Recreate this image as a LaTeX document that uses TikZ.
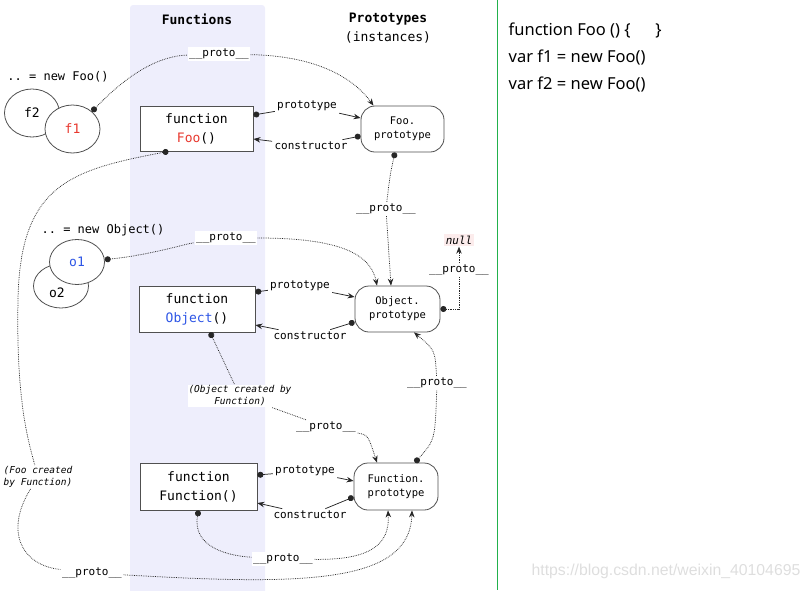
\documentclass[tikz,border=0pt]{standalone}
\usepackage{fontspec}
\setmonofont{DejaVu Sans Mono}
\newfontfamily\codefont{Noto Sans}
\newfontfamily\markfont{Liberation Sans}
\usetikzlibrary{shapes, arrows.meta, calc}

\definecolor{colbg}{RGB}{238,238,252}
\definecolor{fooRed}{RGB}{232,56,46}
\definecolor{objBlue}{RGB}{45,85,230}
\definecolor{nullPink}{RGB}{252,236,236}
\definecolor{edge}{RGB}{80,80,80}
\definecolor{barGreen}{RGB}{34,177,76}

\begin{document}
\begin{tikzpicture}[
    x=1pt, y=1pt,
    line width=0.8pt,
    every node/.style={font=\ttfamily, align=center},
    fnbox/.style={draw=edge, fill=white, inner sep=0pt, font=\ttfamily\fontsize{13}{19}\selectfont},
    protobox/.style={draw=edge, fill=white, rounded corners=14pt, inner sep=0pt, font=\ttfamily\fontsize{10.5}{14}\selectfont},
    inst/.style={ellipse, draw=edge, fill=white, inner sep=0pt, font=\ttfamily\fontsize{13}{15}\selectfont},
    lbl/.style={font=\ttfamily\fontsize{11}{13}\selectfont, inner sep=2pt},
    plbl/.style={lbl, fill=white, inner sep=1.5pt},
    note/.style={font=\ttfamily\itshape\fontsize{9.5}{12}\selectfont, fill=white, inner sep=1pt},
    ctorlink/.style={line width=0.75pt, draw=black!85},
    protolink/.style={ctorlink, densely dotted},
    dotstart/.style={{Circle[length=6pt]}-},
    arrowend/.style={-{Stealth[length=7pt,width=5.5pt]}}
]
\useasboundingbox (0,0) rectangle (812,-590);

% column of constructor functions
\fill[colbg, rounded corners=3pt] (130,-5) rectangle (265,-596);
\node[font=\ttfamily\bfseries\fontsize{13}{16}\selectfont] (fnhead) at (197,-19) {Functions};
\node[font=\ttfamily\fontsize{13}{19}\selectfont] (prhead) at (388,-28) {\textbf{Prototypes}\\(instances)};

% functions
\node[fnbox, minimum width=113pt, minimum height=45pt] (fooFn) at (196.5,-128.5) {function\\\textcolor{fooRed}{Foo}()};
\node[fnbox, minimum width=116pt, minimum height=46pt] (objFn) at (197,-309) {function\\\textcolor{objBlue}{Object}()};
\node[fnbox, minimum width=117pt, minimum height=47pt] (funFn) at (198.5,-486.5) {function\\Function()};

% prototypes
\node[protobox, minimum width=83pt, minimum height=46pt] (fooProto) at (402.5,-129) {Foo.\\prototype};
\node[protobox, minimum width=85pt, minimum height=46pt] (objProto) at (397.5,-309) {Object.\\prototype};
\node[protobox, minimum width=84pt, minimum height=47pt] (funProto) at (396,-486.5) {Function.\\prototype};
\node[font=\ttfamily\itshape\fontsize{11}{13}\selectfont, fill=nullPink, inner sep=2pt] (nullv) at (459,-240) {null};

% instances
\node[font=\ttfamily\fontsize{12}{14}\selectfont] (newfoo) at (58,-77) {.. = new Foo()};
\node[inst, minimum width=55pt, minimum height=48pt] (f2) at (32,-113) {f2};
\node[inst, minimum width=55pt, minimum height=48pt, text=fooRed] (f1) at (72.5,-129) {f1};
\node[font=\ttfamily\fontsize{12}{14}\selectfont] (newobj) at (103,-230) {.. = new Object()};
\node[inst, minimum width=55pt, minimum height=44pt] (o2) at (61,-286) {};
\node[font=\ttfamily\fontsize{13}{15}\selectfont] (o2txt) at (57,-293) {o2};
\node[inst, minimum width=55pt, minimum height=45pt, text=objBlue] (o1) at (77,-262) {o1};

% labels
\node[lbl] (fpt) at (307,-106) {prototype};
\node[lbl] (fct) at (311,-146) {constructor};
\node[lbl] (opt) at (300,-286) {prototype};
\node[lbl] (oct) at (310,-336) {constructor};
\node[lbl] (fnpt) at (305,-471) {prototype};
\node[lbl] (fnct) at (310,-515) {constructor};
\node[plbl] (pf1) at (219,-54) {\_\_proto\_\_};
\node[plbl] (pfo) at (386,-209) {\_\_proto\_\_};
\node[plbl] (po1) at (226,-238) {\_\_proto\_\_};
\node[plbl] (pnl) at (459,-270) {\_\_proto\_\_};
\node[plbl] (pfp) at (437,-383) {\_\_proto\_\_};
\node[plbl] (pob) at (326,-427) {\_\_proto\_\_};
\node[plbl] (pfn) at (283,-559) {\_\_proto\_\_};
\node[plbl] (pbig) at (92,-573) {\_\_proto\_\_};
\node[note] (objnote) at (240,-396) {(Object created by\\Function)};
\node[note] (foonote) at (38,-477) {(Foo created\\by Function)};

% prototype / constructor
\draw[ctorlink, dotstart] ($(fooFn.east)+(0,13.5)$) -- (fpt);
\draw[ctorlink, arrowend] (fpt) -- ($(fooProto.west)+(0,11)$);
\draw[ctorlink, dotstart] ($(fooProto.west)+(0,-7)$) -- (fct);
\draw[ctorlink, arrowend] (fct) -- ($(fooFn.east)+(0,-10.5)$);
\draw[ctorlink, dotstart] ($(objFn.east)+(0,17)$) -- (opt);
\draw[ctorlink, arrowend] (opt) -- ($(objProto.west)+(0,12)$);
\draw[ctorlink, dotstart] ($(objProto.west)+(0,-13)$) -- (oct);
\draw[ctorlink, arrowend] (oct) -- ($(objFn.east)+(0,-16)$);
\draw[ctorlink, dotstart] ($(funFn.east)+(0,11.5)$) -- (fnpt);
\draw[ctorlink, arrowend] (fnpt) -- ($(funProto.west)+(0,5.5)$);
\draw[ctorlink, dotstart] ($(funProto.west)+(0,-10.5)$) -- (fnct);
\draw[ctorlink, arrowend] (fnct) -- ($(funFn.east)+(0,-16.5)$);

% __proto__ chains
\draw[protolink, dotstart] (f1.42) .. controls (130,-72) and (160,-56) .. (pf1);
\draw[protolink, arrowend] (pf1) .. controls (320,-56) and (355,-80) .. ($(fooProto.north)+(-29,0)$);
\draw[protolink, dotstart] ($(fooProto.south)+(-7.5,0)$) .. controls (390,-175) .. (pfo);
\draw[protolink, arrowend] (pfo) .. controls (388,-240) .. ($(objProto.north)+(-6.5,0)$);
\draw[protolink, dotstart] (o1.5) .. controls (150,-255) and (185,-244) .. (po1);
\draw[protolink, arrowend] (po1) .. controls (330,-238) and (370,-250) .. ($(objProto.north)+(-20.5,0)$);
\draw[protolink, dotstart] (objProto.east) -| (pnl.south);
\draw[protolink, arrowend] (pnl.north) -- (nullv.south);
\draw[protolink, dotstart] ($(objFn.south)+(13,0)$) -- (objnote);
\draw[protolink] (objnote) -- (pob);
\draw[protolink, arrowend] (pob) .. controls (368,-435) .. ($(funProto.north)+(-19,0)$);
\draw[protolink, dotstart] ($(funProto.north)+(19,0)$) .. controls (435,-440) .. (pfp);
\draw[protolink, arrowend] (pfp) .. controls (435,-350) .. ($(objProto.south)+(16.5,0)$);
\draw[protolink, dotstart] (funFn.south) .. controls (192,-548) and (230,-556) .. (pfn);
\draw[protolink, arrowend] (pfn) .. controls (370,-560) and (390,-545) .. ($(funProto.south)+(-8,0)$);
\draw[protolink, dotstart] ($(fooFn.south)+(-28,0)$) .. controls (70,-170) and (20,-185) .. (18,-300)
    .. controls (16,-400) and (28,-440) .. (foonote);
\draw[protolink] (foonote) .. controls (5,-530) and (20,-565) .. (pbig);
\draw[protolink, arrowend] (pbig) .. controls (300,-585) and (410,-585) .. ($(funProto.south)+(16,0)$);

% code on the right
\draw[barGreen, line width=1pt] (497.5,0) -- (497.5,-590);
\node[font=\codefont\fontsize{16.5}{27}\selectfont, align=left, anchor=north west] (code) at (505,-19) {function Foo () \{\hspace{1.5em}\}\\var f1 = new Foo()\\var f2 = new Foo()};
\node[font=\markfont\fontsize{15.8}{18}\selectfont, text=black!13] (mark) at (666,-571) {https://blog.csdn.net/weixin\_40104695};
\end{tikzpicture}
\end{document}
